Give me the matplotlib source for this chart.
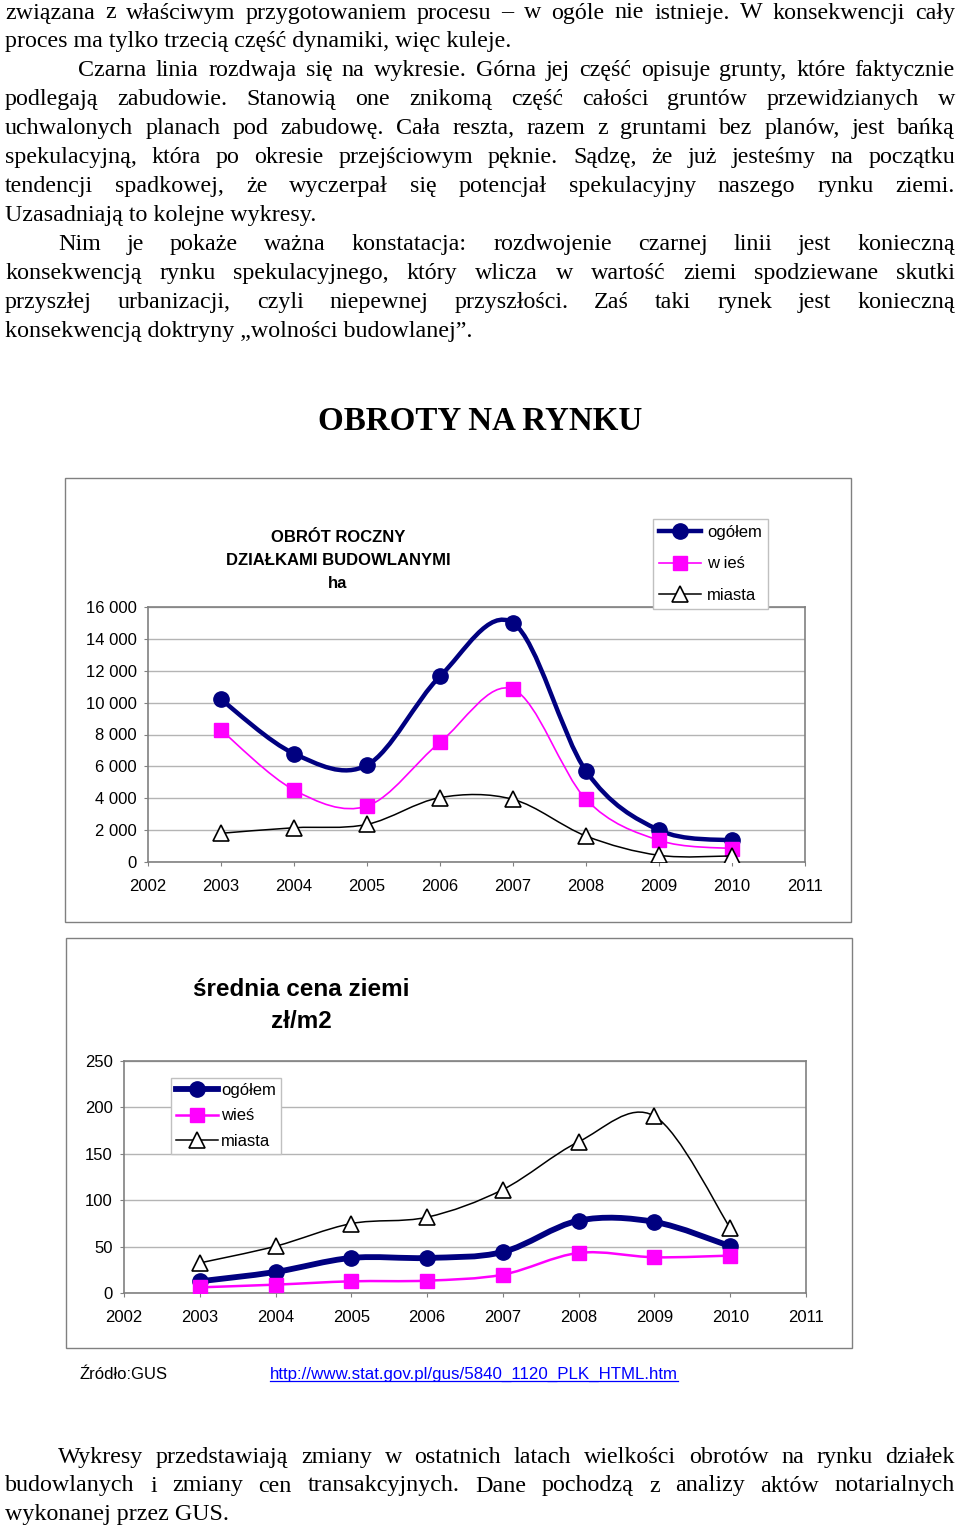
"""
obroty_rynku.py
strona dokumentu: tekst + dwa wykresy GUS (obrót działkami budowlanymi, średnia cena ziemi)
"""
import numpy as np
import matplotlib
matplotlib.use("Agg")
import matplotlib.pyplot as plt
from matplotlib.path import Path
from matplotlib.patches import PathPatch, Rectangle
from matplotlib.lines import Line2D

W, H = 960, 1529

years = [2003, 2004, 2005, 2006, 2007, 2008, 2009, 2010]

# obrót roczny działkami budowlanymi, ha
obrot_ogolem = [10200, 6800, 6080, 11650, 15000, 5710, 2000, 1350]
obrot_wies = [8280, 4520, 3510, 7510, 10840, 3930, 1360, 840]
obrot_miasta = [1800, 2150, 2360, 4040, 3930, 1630, 420, 380]

# średnia cena ziemi, zł/m2
cena_ogolem = [12.6, 22.7, 37.8, 37.8, 44.2, 78.0, 76.6, 50.4]
cena_wies = [6.1, 9.0, 12.6, 13.3, 19.8, 43.2, 38.5, 40.3]
cena_miasta = [32.4, 50.4, 74.8, 81.7, 111.5, 163.0, 190.6, 70.0]

x_ticks = list(range(2002, 2012))
obrot_ticks = list(range(0, 16001, 2000))
cena_ticks = list(range(0, 251, 50))

body_top = [
    ("związana z właściwym przygotowaniem procesu – w ogóle nie istnieje. W konsekwencji cały", 5, True),
    ("proces ma tylko trzecią część dynamiki, więc kuleje.", 5, False),
    ("Czarna linia rozdwaja się na wykresie. Górna jej część opisuje grunty, które faktycznie", 78, True),
    ("podlegają zabudowie. Stanowią one znikomą część całości gruntów przewidzianych w", 5, True),
    ("uchwalonych planach pod zabudowę. Cała reszta, razem z gruntami bez planów, jest bańką", 5, True),
    ("spekulacyjną, która po okresie przejściowym pęknie. Sądzę, że już jesteśmy na początku", 5, True),
    ("tendencji spadkowej, że wyczerpał się potencjał spekulacyjny naszego rynku ziemi.", 5, True),
    ("Uzasadniają to kolejne wykresy.", 5, False),
    ("Nim je pokaże ważna konstatacja: rozdwojenie czarnej linii jest konieczną", 58, True),
    ("konsekwencją rynku spekulacyjnego, który wlicza w wartość ziemi spodziewane skutki", 5, True),
    ("przyszłej urbanizacji, czyli niepewnej przyszłości. Zaś taki rynek jest konieczną", 5, True),
    ("konsekwencją doktryny „wolności budowlanej”.", 5, False),
]
body_bottom = [
    ("Wykresy przedstawiają zmiany w ostatnich latach wielkości obrotów na rynku działek", 58, True),
    ("budowlanych i zmiany cen transakcyjnych. Dane pochodzą z analizy aktów notarialnych", 5, True),
    ("wykonanej przez GUS.", 5, False),
]

SERIF = "Liberation Serif"
SANS = "Liberation Sans"
BODY_SIZE = 17.3
GRAY = "#808080"

fig = plt.figure(figsize=(W / 100, H / 100), dpi=100)
fig.patch.set_facecolor("white")
renderer = fig.canvas.get_renderer()


def fx(x):
    return x / W


def fy(y):
    return 1 - y / H


def put_line(text, base_y, x0, justify, x1=955):
    kw = dict(family=SERIF, fontsize=BODY_SIZE, va="baseline", ha="left")
    if not justify:
        fig.text(fx(x0), fy(base_y), text, **kw)
        return
    words = text.split(" ")
    arts = [fig.text(0, fy(base_y), w, **kw) for w in words]
    widths = [a.get_window_extent(renderer).width for a in arts]
    gap = (x1 - x0 - sum(widths)) / (len(words) - 1)
    x = x0
    for a, wd in zip(arts, widths):
        a.set_x(fx(x))
        x += wd + gap


for i, (txt, x0, just) in enumerate(body_top):
    put_line(txt, 18.5 + 28.93 * i, x0, just)
for i, (txt, x0, just) in enumerate(body_bottom):
    put_line(txt, 1463 + 28.5 * i, x0, just)

fig.text(0.5, fy(430), "OBROTY NA RYNKU", family=SERIF, fontsize=23.8,
         fontweight="bold", ha="center", va="baseline")


def smooth_path(xs, ys):
    # bezier w stylu "wygładzonej linii" excela (catmull-rom)
    p = np.column_stack([xs, ys]).astype(float)
    n = len(p)
    verts, codes = [p[0]], [Path.MOVETO]
    for i in range(n - 1):
        p0, p1 = p[max(i - 1, 0)], p[i]
        p2, p3 = p[i + 1], p[min(i + 2, n - 1)]
        verts += [p1 + (p2 - p0) / 6, p2 - (p3 - p1) / 6, p2]
        codes += [Path.CURVE4] * 3
    return Path(verts, codes)


def px_axes(x0, y0, x1, y1):
    return fig.add_axes([fx(x0), fy(y1), (x1 - x0) / W, (y1 - y0) / H])


def frame(x0, y0, x1, y1):
    fig.add_artist(Rectangle((fx(x0), fy(y1)), (x1 - x0) / W, (y1 - y0) / H,
                             transform=fig.transFigure, fill=False,
                             edgecolor=GRAY, linewidth=1.0))


def draw_chart(ax, series, styles, yticks, ylabels):
    for ys, st in zip(series, styles):
        ax.add_patch(PathPatch(smooth_path(years, ys), fill=False,
                               edgecolor=st["color"], linewidth=st["lw"],
                               capstyle="round", joinstyle="round", zorder=st["z"]))
        ax.plot(years, ys, linestyle="none", marker=st["marker"], markersize=st["ms"],
                markerfacecolor=st["mfc"], markeredgecolor=st["mec"],
                markeredgewidth=st["mew"], zorder=st["z"] + 0.5)
    ax.set_xlim(2002, 2011)
    ax.set_ylim(yticks[0], yticks[-1])
    ax.set_xticks(x_ticks)
    ax.set_yticks(yticks)
    ax.set_yticklabels(ylabels)
    ax.grid(axis="y", color="#b4b4b4", linewidth=1.0)
    ax.set_axisbelow(True)
    for sp in ax.spines.values():
        sp.set_color(GRAY)
        sp.set_linewidth(1.2)
    ax.tick_params(axis="both", direction="out", length=3, color=GRAY,
                   labelsize=12, labelcolor="black")
    ax.tick_params(axis="x", pad=9)
    ax.tick_params(axis="y", pad=5)
    for lab in ax.get_xticklabels() + ax.get_yticklabels():
        lab.set_family(SANS)


def legend_handles(styles, labels):
    return [Line2D([], [], color=st["color"], linewidth=st["lw"], marker=st["marker"],
                   markersize=st["ms"], markerfacecolor=st["mfc"],
                   markeredgecolor=st["mec"], markeredgewidth=st["mew"], label=lb)
            for st, lb in zip(styles, labels)]


def styles_for(ogolem_lw, wies_lw):
    return [
        dict(color="#000080", lw=ogolem_lw, marker="o", ms=11, mfc="#000080",
             mec="#000080", mew=1, z=3),
        dict(color="#ff00ff", lw=wies_lw, marker="s", ms=9.5, mfc="#ff00ff",
             mec="#ff00ff", mew=1, z=4),
        dict(color="black", lw=1.1, marker="^", ms=11, mfc="white",
             mec="black", mew=1.2, z=5),
    ]


# --- wykres 1: obrót roczny ---
frame(65, 478, 851, 922)
ax1 = px_axes(148, 607, 805, 862)
st1 = styles_for(3.2, 1.2)
draw_chart(ax1, [obrot_ogolem, obrot_wies, obrot_miasta], st1, obrot_ticks,
           [f"{v:,}".replace(",", " ") for v in obrot_ticks])
for txt, y in [("OBRÓT ROCZNY", 537), ("DZIAŁKAMI BUDOWLANYMI", 560), ("ha", 584)]:
    fig.text(fx(338), fy(y), txt, family=SANS, fontsize=12, fontweight="bold",
             ha="center", va="center")
leg1 = ax1.legend(handles=legend_handles(st1, ["ogółem", "w ieś", "miasta"]),
                  loc="upper left", bbox_to_anchor=(fx(653), fy(519)),
                  bbox_transform=fig.transFigure, borderaxespad=0,
                  prop=dict(family=SANS, size=12), fancybox=False, framealpha=1,
                  edgecolor="#c0c0c0", handlelength=2.5, handletextpad=0.4,
                  labelspacing=1.0, borderpad=0.35)
leg1.get_frame().set_linewidth(1.0)
leg1.set_zorder(10)

# --- wykres 2: średnia cena ziemi ---
frame(66, 938, 852, 1348)
ax2 = px_axes(124, 1061, 806, 1293)
st2 = styles_for(4.2, 1.8)
draw_chart(ax2, [cena_ogolem, cena_wies, cena_miasta], st2, cena_ticks,
           [str(v) for v in cena_ticks])
fig.text(fx(301), fy(990), "średnia cena ziemi", family=SANS, fontsize=17.5,
         fontweight="bold", ha="center", va="center")
fig.text(fx(301), fy(1021), "zł/m2", family=SANS, fontsize=17.5,
         fontweight="bold", ha="center", va="center")
leg2 = ax2.legend(handles=legend_handles(st2, ["ogółem", "wieś", "miasta"]),
                  loc="upper left", bbox_to_anchor=(fx(171), fy(1078)),
                  bbox_transform=fig.transFigure, borderaxespad=0,
                  prop=dict(family=SANS, size=12), fancybox=False, framealpha=1,
                  edgecolor="#c0c0c0", handlelength=2.5, handletextpad=0.2,
                  labelspacing=0.62, borderpad=0.3)
leg2.get_frame().set_linewidth(1.0)
leg2.set_zorder(10)

# --- źródło ---
fig.text(fx(80), fy(1379), "Źródło:GUS", family=SANS, fontsize=12, va="baseline")
link = fig.text(fx(270), fy(1379), "http://www.stat.gov.pl/gus/5840_1120_PLK_HTML.htm",
                family=SANS, fontsize=12.2, va="baseline", color="#0000ff")
lw_px = link.get_window_extent(renderer).width
fig.add_artist(Line2D([fx(270), fx(270 + lw_px)], [fy(1381), fy(1381)],
                      transform=fig.transFigure, color="#0000ff", linewidth=0.9))

fig.savefig("out.png", dpi=100)
print("saved out.png")
